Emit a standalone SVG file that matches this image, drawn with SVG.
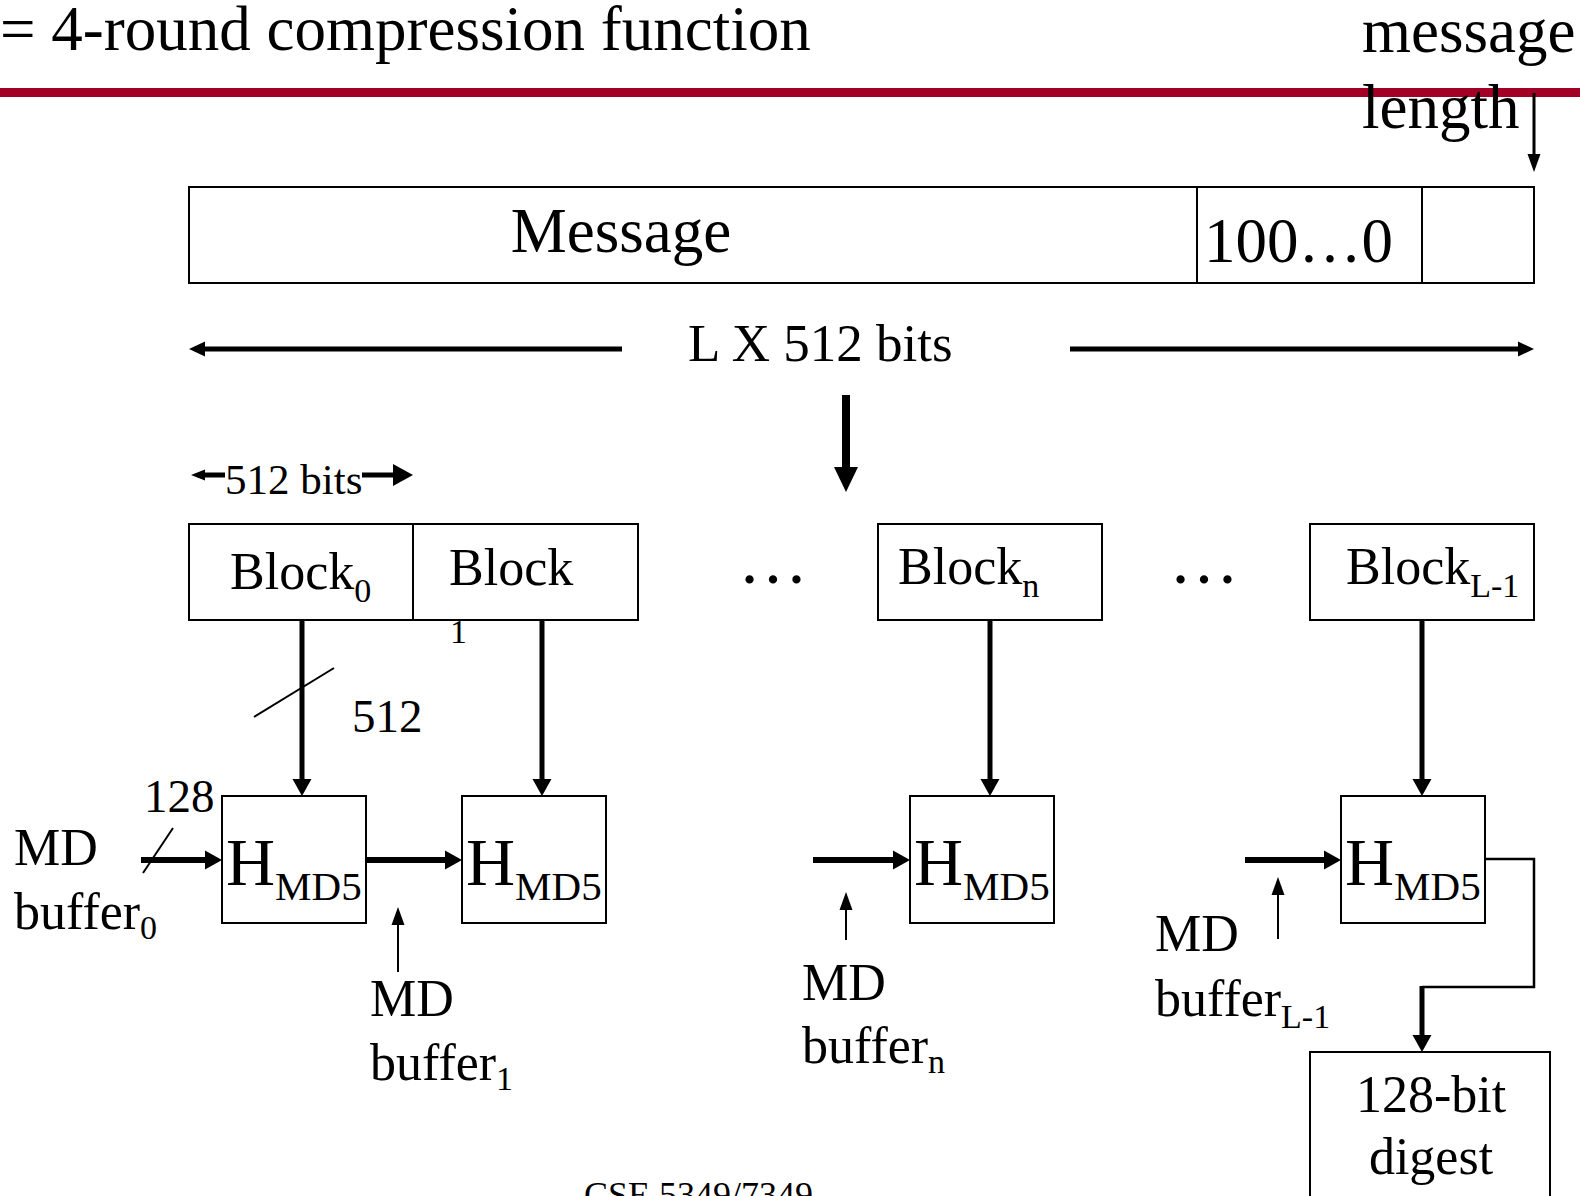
<svg xmlns="http://www.w3.org/2000/svg" width="1580" height="1196" viewBox="0 0 1580 1196">
  <style>
    text { font-family: "Liberation Serif", "Times New Roman", serif; fill: #000; }
    .box { fill: #fff; stroke: #000; stroke-width: 2; }
    .wire { fill: none; stroke: #000; }
  </style>
  <defs>
    <marker id="headBig" markerUnits="userSpaceOnUse" markerWidth="30" markerHeight="30" refX="0" refY="12" orient="auto" overflow="visible">
      <path d="M0,0 L25,12 L0,24 Z" fill="#000"/>
    </marker>
    <marker id="headMed" markerUnits="userSpaceOnUse" markerWidth="24" markerHeight="24" refX="0" refY="9.5" orient="auto" overflow="visible">
      <path d="M0,0 L17,9.5 L0,19 Z" fill="#000"/>
    </marker>
    <marker id="headWide" markerUnits="userSpaceOnUse" markerWidth="24" markerHeight="24" refX="0" refY="11" orient="auto" overflow="visible">
      <path d="M0,0 L20,11 L0,22 Z" fill="#000"/>
    </marker>
    <marker id="headSpan" markerUnits="userSpaceOnUse" markerWidth="20" markerHeight="20" refX="0" refY="7.5" orient="auto" overflow="visible">
      <path d="M0,0 L16,7.5 L0,15 Z" fill="#000"/>
    </marker>
    <marker id="headSmall" markerUnits="userSpaceOnUse" markerWidth="20" markerHeight="20" refX="0" refY="5.5" orient="auto" overflow="visible">
      <path d="M0,0 L14,5.5 L0,11 Z" fill="#000"/>
    </marker>
    <marker id="headThin" markerUnits="userSpaceOnUse" markerWidth="20" markerHeight="20" refX="0" refY="6.5" orient="auto" overflow="visible">
      <path d="M0,0 L18,6.5 L0,13 Z" fill="#000"/>
    </marker>
  </defs>

  <!-- heading and rule -->
  <g id="heading">
    <text x="0" y="50" font-size="63">= 4-round compression function</text>
    <rect x="0" y="88" width="1580" height="9" fill="#a30026"/>
  </g>

  <!-- padded message -->
  <g id="message-length-label">
    <text x="1362" y="52" font-size="63">message</text>
    <text x="1362" y="128" font-size="63">length</text>
  </g>
  <g id="message">
    <rect class="box" x="189" y="187" width="1008" height="96"/>
    <text x="621" y="252" font-size="63" text-anchor="middle">Message</text>
  </g>
  <g id="padding">
    <rect class="box" x="1197" y="187" width="225" height="96"/>
    <text x="1204" y="262" font-size="63">100…0</text>
  </g>
  <g id="length-field">
    <rect class="box" x="1422" y="187" width="112" height="96"/>
  </g>
  <g id="total-length-label">
    <text x="688" y="361" font-size="53">L X 512 bits</text>
  </g>
  <g id="block-size-label">
    <text x="225" y="494" font-size="43">512 bits</text>
  </g>

  <!-- message blocks -->
  <g id="block0">
    <rect class="box" x="189" y="524" width="224" height="96"/>
    <text x="230" y="589" font-size="52">Block<tspan dy="13" font-size="34">0</tspan></text>
  </g>
  <g id="block1">
    <rect class="box" x="413" y="524" width="225" height="96"/>
    <text x="449" y="585" font-size="52">Block</text>
    <text x="450" y="643" font-size="34">1</text>
  </g>
  <g id="dots1">
    <text x="738" y="583" font-size="70">…</text>
  </g>
  <g id="blockn">
    <rect class="box" x="878" y="524" width="224" height="96"/>
    <text x="898" y="584" font-size="52">Block<tspan dy="13" font-size="34">n</tspan></text>
  </g>
  <g id="dots2">
    <text x="1169" y="583" font-size="70">…</text>
  </g>
  <g id="blockL1">
    <rect class="box" x="1310" y="524" width="224" height="96"/>
    <text x="1346" y="584" font-size="52">Block<tspan dy="13" font-size="34">L-1</tspan></text>
  </g>

  <!-- compression stages -->
  <g id="h0">
    <rect class="box" x="222" y="796" width="144" height="127"/>
    <text x="226" y="885" font-size="68">H<tspan dy="15" font-size="41">MD5</tspan></text>
  </g>
  <g id="h1">
    <rect class="box" x="462" y="796" width="144" height="127"/>
    <text x="466" y="885" font-size="68">H<tspan dy="15" font-size="41">MD5</tspan></text>
  </g>
  <g id="hn">
    <rect class="box" x="910" y="796" width="144" height="127"/>
    <text x="914" y="885" font-size="68">H<tspan dy="15" font-size="41">MD5</tspan></text>
  </g>
  <g id="hL1">
    <rect class="box" x="1341" y="796" width="144" height="127"/>
    <text x="1345" y="885" font-size="68">H<tspan dy="15" font-size="41">MD5</tspan></text>
  </g>
  <g id="digest">
    <rect class="box" x="1310" y="1052" width="240" height="160"/>
    <text x="1431" y="1112" font-size="52" text-anchor="middle">128-bit</text>
    <text x="1431" y="1174" font-size="52" text-anchor="middle">digest</text>
  </g>

  <!-- buffer labels -->
  <g id="buffer0-label">
    <text x="14" y="865" font-size="52">MD</text>
    <text x="14" y="929" font-size="52">buffer<tspan dy="10" font-size="34">0</tspan></text>
    <text x="144" y="812" font-size="47">128</text>
  </g>
  <g id="buffer1-label">
    <text x="370" y="1016" font-size="52">MD</text>
    <text x="370" y="1080" font-size="52">buffer<tspan dy="10" font-size="34">1</tspan></text>
  </g>
  <g id="buffern-label">
    <text x="802" y="1000" font-size="52">MD</text>
    <text x="802" y="1063" font-size="52">buffer<tspan dy="10" font-size="34">n</tspan></text>
  </g>
  <g id="bufferL1-label">
    <text x="1155" y="951" font-size="52">MD</text>
    <text x="1155" y="1016" font-size="52">buffer<tspan dy="12" font-size="34">L-1</tspan></text>
  </g>
  <g id="width-label">
    <text x="352" y="732" font-size="47">512</text>
  </g>
  <g id="footer">
    <text x="584" y="1207" font-size="36">CSE 5349/7349</text>
  </g>

  <!-- connectors -->
  <g id="connectors" class="wire">
    <!-- length field pointer -->
    <line x1="1534" y1="93" x2="1534" y2="154" stroke-width="3" marker-end="url(#headThin)"/>
    <!-- L x 512 bits span -->
    <line x1="622" y1="349" x2="205" y2="349" stroke-width="5" marker-end="url(#headSpan)"/>
    <line x1="1070" y1="349" x2="1518" y2="349" stroke-width="5" marker-end="url(#headSpan)"/>
    <!-- split into blocks -->
    <line x1="846" y1="395" x2="846" y2="467" stroke-width="8" marker-end="url(#headBig)"/>
    <!-- 512 bits span -->
    <line x1="225" y1="475" x2="205" y2="475" stroke-width="5" marker-end="url(#headSmall)"/>
    <line x1="362" y1="475" x2="393" y2="475" stroke-width="5" marker-end="url(#headWide)"/>
    <!-- blocks into stages -->
    <line x1="302" y1="620" x2="302" y2="779" stroke-width="5" marker-end="url(#headMed)"/>
    <line x1="542" y1="620" x2="542" y2="779" stroke-width="5" marker-end="url(#headMed)"/>
    <line x1="990" y1="620" x2="990" y2="779" stroke-width="5" marker-end="url(#headMed)"/>
    <line x1="1422" y1="620" x2="1422" y2="779" stroke-width="5" marker-end="url(#headMed)"/>
    <line x1="254" y1="717" x2="334" y2="668" stroke-width="2"/>
    <!-- chaining values -->
    <line x1="141" y1="860" x2="205" y2="860" stroke-width="6" marker-end="url(#headMed)"/>
    <line x1="143" y1="873" x2="173" y2="828" stroke-width="2"/>
    <line x1="366" y1="860" x2="445" y2="860" stroke-width="6" marker-end="url(#headMed)"/>
    <line x1="813" y1="860" x2="893" y2="860" stroke-width="6" marker-end="url(#headMed)"/>
    <line x1="1245" y1="860" x2="1324" y2="860" stroke-width="6" marker-end="url(#headMed)"/>
    <!-- buffer pointers -->
    <line x1="398" y1="972" x2="398" y2="925" stroke-width="2" marker-end="url(#headThin)"/>
    <line x1="846" y1="940" x2="846" y2="910" stroke-width="2" marker-end="url(#headThin)"/>
    <line x1="1278" y1="939" x2="1278" y2="895" stroke-width="2" marker-end="url(#headThin)"/>
    <!-- output to digest -->
    <polyline points="1485,859 1534,859 1534,987 1422,987" stroke-width="2.5"/>
    <line x1="1422" y1="986" x2="1422" y2="1035" stroke-width="5" marker-end="url(#headMed)"/>
  </g>
</svg>
